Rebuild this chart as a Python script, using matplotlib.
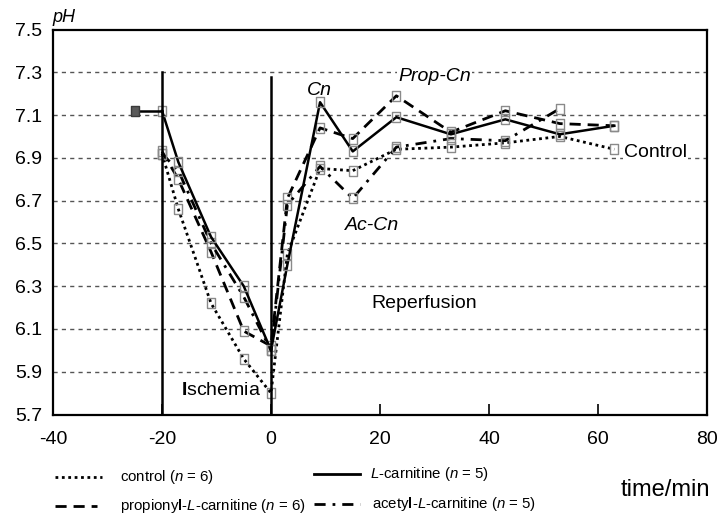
import matplotlib
matplotlib.use('Agg')
import matplotlib.pyplot as plt
from matplotlib.lines import Line2D

plt.rcParams['font.family'] = ['Liberation Sans', 'DejaVu Sans']
plt.rcParams['mathtext.fontset'] = 'custom'
plt.rcParams['mathtext.rm'] = 'Liberation Sans'
plt.rcParams['mathtext.it'] = 'Liberation Sans:italic'
plt.rcParams['mathtext.bf'] = 'Liberation Sans:bold'

# data
times = [-20, -17, -11, -5, 0, 3, 9, 15, 23, 33, 43, 53, 63]
control = [6.92, 6.66, 6.22, 5.96, 5.80, 6.45, 6.85, 6.84, 6.94, 6.95, 6.97, 7.00, 6.94]
lcarn = [7.12, 6.88, 6.53, 6.30, 6.00, 6.40, 7.16, 6.93, 7.09, 7.01, 7.08, 7.01, 7.05]
prop = [6.93, 6.80, 6.46, 6.09, 6.02, 6.71, 7.04, 6.99, 7.19, 7.02, 7.12, 7.06, 7.05]
acetyl_times = [-20, -17, -11, -5, 0, 3, 9, 15, 23, 33, 43, 53]
acetyl = [6.92, 6.84, 6.50, 6.25, 6.00, 6.68, 6.86, 6.71, 6.95, 6.99, 6.98, 7.13]
baseline_t = [-25, -20]
baseline_ph = [7.12, 7.12]
yticks = [5.7, 5.9, 6.1, 6.3, 6.5, 6.7, 6.9, 7.1, 7.3, 7.5]
xticks = [-40, -20, 0, 20, 40, 60, 80]

W, H = 723, 516
fig = plt.figure(figsize=(W / 100, H / 100), dpi=100)
ax = fig.add_axes([53 / W, 1 - 414.5 / H, 654 / W, 385 / H])

box = [(-0.8, -1), (0.8, -1), (0.8, 1), (-0.8, 1), (-0.8, -1)]
mk = dict(marker=box, ms=7.5, mfc='none', mec='#8a8a8a', mew=1.0)

ax.plot(times, control, color='black', lw=2, linestyle=(0, (1, 1.3)), **mk)
ax.plot(times, prop, color='black', lw=2, linestyle=(0, (4, 2.5)), **mk)
ax.plot(acetyl_times, acetyl, color='black', lw=2, linestyle=(0, (4, 2.5, 1, 2.5)), **mk)
ax.plot(times, lcarn, color='black', lw=1.8, linestyle='-', **mk)
ax.plot(baseline_t, baseline_ph, color='black', lw=1.8)
ax.plot(baseline_t[:1], baseline_ph[:1], marker=box, ms=7, mfc='#5a5a5a', mec='#3a3a3a', ls='none')

# start of ischemia and reperfusion
ax.plot([-20, -20], [5.7, 7.3], color='black', lw=1.8)
ax.plot([0, 0], [5.7, 7.28], color='black', lw=1.8)

ax.set_xlim(-40, 80)
ax.set_ylim(5.7, 7.5)
ax.set_xticks(xticks)
ax.set_yticks(yticks)
ax.set_xticklabels([str(v) for v in xticks])
ax.set_yticklabels([f'{v:.1f}' for v in yticks])
ax.tick_params(axis='both', direction='in', labelsize=14, width=1.2)
ax.tick_params(axis='x', length=8, pad=12)
ax.tick_params(axis='y', length=0, pad=8)
for s in ax.spines.values():
    s.set_linewidth(1.6)
for v in yticks[1:-1]:
    ax.axhline(v, color='#555555', lw=1, linestyle=(0, (3, 3)), zorder=0)

ax.text(8.8, 7.215, 'Cn', style='italic', fontsize=14, ha='center', va='center')
ax.text(30, 7.28, 'Prop-Cn', style='italic', fontsize=14, ha='center', va='center',
        bbox=dict(fc='white', ec='none', pad=0.5))
ax.text(18.5, 6.585, 'Ac-Cn', style='italic', fontsize=14, ha='center', va='center')
ax.text(70.6, 6.924, 'Control', fontsize=14, ha='center', va='center',
        bbox=dict(fc='white', ec='none', pad=0.5))
ax.text(28.1, 6.217, 'Reperfusion', fontsize=14, ha='center', va='center')
ax.text(-9.2, 5.81, r'$\mathbf{I}$schemia', fontsize=14, ha='center', va='center')

fig.text(64 / W, 1 - 17 / H, 'pH', style='italic', fontsize=13, ha='center', va='center')
fig.text(665 / W, 1 - 490 / H, 'time/min', fontsize=17, ha='center', va='center')

# legend drawn by hand below the axes
legend = [
    (55, 102, 477, (0, (1, 1.3)), 'control ($n$ = 6)', 120),
    (55, 97, 506, (0, (4, 2.5)), r'propiony$\mathbf{l}$-$L$-carnitine ($n$ = 6)', 120),
    (314, 360, 474, '-', '$L$-carnitine ($n$ = 5)', 370),
    (314, 360, 504, (0, (4, 2.5, 1, 2.5)), r'acety$\mathbf{l}$-$L$-carnitine ($n$ = 5)', 372),
]
for x0, x1, y, ls, label, tx in legend:
    fig.add_artist(Line2D([x0 / W, x1 / W], [1 - y / H, 1 - y / H], color='black',
                          lw=2, linestyle=ls, transform=fig.transFigure))
    fig.text(tx / W, 1 - y / H, label, fontsize=10.8, ha='left', va='center')

fig.savefig('out.png', dpi=100)
